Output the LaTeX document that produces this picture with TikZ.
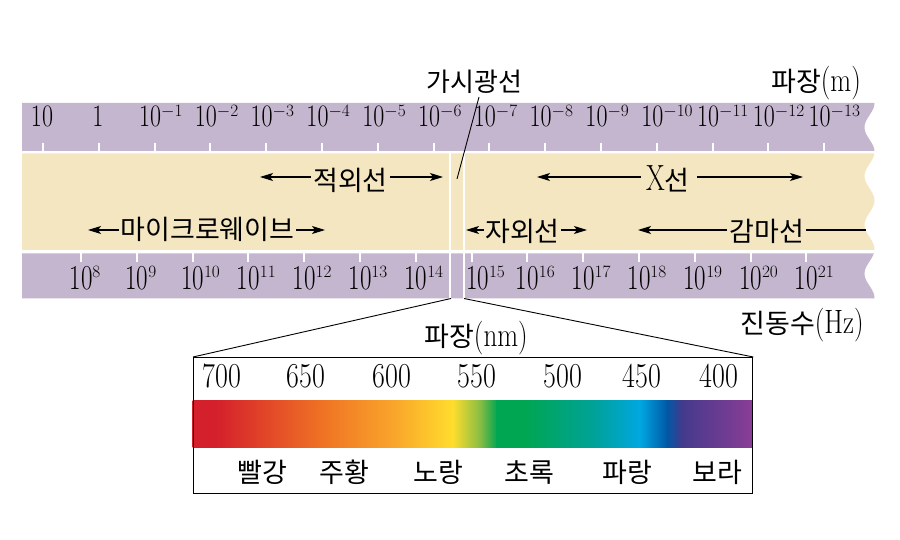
\documentclass[tikz,border=0pt]{standalone}
\usepackage{fontspec}
\usepackage{graphicx}
\usetikzlibrary{arrows.meta}
\newfontfamily\kr{Noto Sans CJK KR}
\newcommand\ystr[2][1.3]{\scalebox{1}[#1]{#2}}
\newcommand\supT[3]{\rlap{\raisebox{#1}{\fontsize{#2}{#2}\selectfont$#3$}}}
\definecolor{purp}{RGB}{196,182,206}
\definecolor{cream}{RGB}{243,230,192}
\definecolor{s1}{HTML}{D41F2C}
\definecolor{s2}{HTML}{EF7124}
\definecolor{s3}{HTML}{F9A62B}
\definecolor{s4}{HTML}{FFDD2D}
\definecolor{s5}{HTML}{7DBA45}
\definecolor{s6}{HTML}{00A651}
\definecolor{s7}{HTML}{00A651}
\definecolor{s8}{HTML}{00A29A}
\definecolor{s9}{HTML}{00A7E1}
\definecolor{s10}{HTML}{0058A6}
\definecolor{s11}{HTML}{443A8C}
\definecolor{s12}{HTML}{8A3D96}
\begin{document}
\begin{tikzpicture}[x=1pt,y=-1pt,
  toplab/.style={anchor=base,inner sep=0pt,font=\fontsize{24}{24}\selectfont},
  botlab/.style={anchor=base,inner sep=0pt,font=\fontsize{25}{25}\selectfont},
  numlab/.style={anchor=base,inner sep=0pt,font=\fontsize{28}{28}\selectfont},
  krlab/.style={anchor=base,inner sep=0pt,font=\kr\fontsize{27}{27}\selectfont},
  mixlab/.style={anchor=base,inner sep=0pt,font=\fontsize{27}{27}\selectfont},
  tickw/.style={white,line width=2pt},
  gapw/.style={white,line width=2pt},
  arr/.style={-{Stealth[length=13pt,width=8pt,inset=3pt]},line width=1.2pt},
  plainln/.style={line width=1.2pt},
  thinln/.style={line width=0.9pt}]
\useasboundingbox (0,0) rectangle (900,540);
\fill[white] (0,0) rectangle (900,540);
% bands with wavy right edge
\fill[purp] (22,103) -- plot[domain=103:151,samples=40,variable=\t] ({869.5+5*cos((\t-103)*7.3846)},\t) -- (22,151) -- cycle;
\fill[cream] (22,153.5) -- plot[domain=153.5:250,samples=60,variable=\t] ({869.5+5*cos((\t-103)*7.3846)},\t) -- (22,250) -- cycle;
\fill[purp] (22,253.3) -- plot[domain=253.3:298.3,samples=40,variable=\t] ({869.5+5*cos((\t-103)*7.3846)},\t) -- (22,298.3) -- cycle;
% ticks
\foreach \k in {0,...,14} \draw[tickw] ({43+55.8*\k},143) -- ({43+55.8*\k},151.5);
\foreach \j in {0,...,13} \draw[tickw] ({81+55.8*\j},253) -- ({81+55.8*\j},262);
% visible gap lines
\draw[gapw] (450,151) -- (450,299);
\draw[gapw] (464,151) -- (464,299);
% top labels
\node[toplab] (t0) at (42,127) {\ystr{10}};
\node[toplab] (t1) at (98,127) {\ystr{1}};
\foreach \k in {2,...,14} {
  \pgfmathtruncatemacro\e{\k-1}
  \node[toplab] (t\k) at ({43+55.8*\k-4.5},127) {\ystr{10}\supT{10pt}{16}{-\e}};
}
% bottom labels
\foreach \j in {0,...,13} {
  \pgfmathtruncatemacro\e{\j+8}
  \pgfmathsetmacro\dx{\j==7 ? 6 : 0}
  \node[botlab] (b\j) at ({81+55.8*\j+\dx},290) {\ystr[1.4]{10}\supT{12pt}{16}{\e}};
}
% headers
\node[krlab,font=\kr\fontsize{26}{26}\selectfont] (vis) at (474.5,92) {가시광선};
\node[mixlab] (wl) at (816,92) {{\kr 파장}\ystr[1.25]{(m)}};
\node[mixlab] (fq) at (802,333) {{\kr 진동수}\ystr[1.25]{(Hz)}};
\coordinate (vtop) at (479,97);
\coordinate (vbot) at (457,179);
\draw[thinln] (vtop) -- (vbot);
% band labels
\node[krlab] (ir) at (350.5,190.5) {적외선};
\coordinate (irA) at (311,177); \coordinate (irB) at (260,177);
\coordinate (irC) at (390,177); \coordinate (irD) at (443,177);
\draw[arr] (irA) -- (irB); \draw[arr] (irC) -- (irD);
\node[krlab] (mw) at (207.5,240) {마이크로웨이브};
\coordinate (mwA) at (119,230); \coordinate (mwB) at (88,230);
\coordinate (mwC) at (296,230); \coordinate (mwD) at (325,230);
\draw[arr] (mwA) -- (mwB); \draw[arr] (mwC) -- (mwD);
\node[mixlab] (xr) at (668,190.5) {\ystr[1.35]{X}{\kr 선}};
\coordinate (xrA) at (641,177); \coordinate (xrB) at (537,177);
\coordinate (xrC) at (697,177); \coordinate (xrD) at (803,177);
\draw[arr] (xrA) -- (xrB); \draw[arr] (xrC) -- (xrD);
\node[krlab] (uv) at (522.5,241.5) {자외선};
\coordinate (uvA) at (484,230); \coordinate (uvB) at (466,230);
\coordinate (uvC) at (561,230); \coordinate (uvD) at (587,230);
\draw[arr] (uvA) -- (uvB); \draw[arr] (uvC) -- (uvD);
\node[krlab] (gm) at (767,241.5) {감마선};
\coordinate (gmA) at (727,230); \coordinate (gmB) at (638,230);
\coordinate (gmC) at (806,230); \coordinate (gmD) at (866,230);
\draw[arr] (gmA) -- (gmB); \draw[plainln] (gmC) -- (gmD);
% spectrum
\foreach \xa/\ca/\xb/\cb in {193/s1/215/s1, 215/s1/320/s2, 320/s2/395/s3, 395/s3/453/s4, 453/s4/482/s5, 482/s5/497/s6, 497/s6/525/s7, 525/s7/595/s8, 595/s8/640/s9, 640/s9/667/s10, 667/s10/682/s11, 682/s11/752/s12}
  \shade[left color=\ca,right color=\cb] ({\xa-0.4},400) rectangle ({\xb+0.4},447);
\node[draw,line width=1.3pt,anchor=north west,minimum width=559pt,minimum height=136pt,inner sep=0pt] (box) at (193,357) {};
\coordinate (gl) at (451,298.5);
\coordinate (gr) at (464,298.5);
\draw[thinln] (gl) -- (box.north west);
\draw[thinln] (gr) -- (box.north east);
\node[mixlab] (nm) at (476,346.5) {{\kr 파장}\ystr[1.25]{(nm)}};
\foreach \v/\x in {700/222,650/306,600/392,550/477,500/563,450/642,400/719}
  \node[numlab] (n\v) at (\x,387) {\ystr[1.25]{\v}};
\foreach \c/\x/\nm in {빨강/262/c1,주황/344/c2,노랑/438/c3,초록/529/c4,파랑/627/c5,보라/717/c6}
  \node[krlab] (\nm) at (\x,482) {\c};
\end{tikzpicture}
\end{document}
